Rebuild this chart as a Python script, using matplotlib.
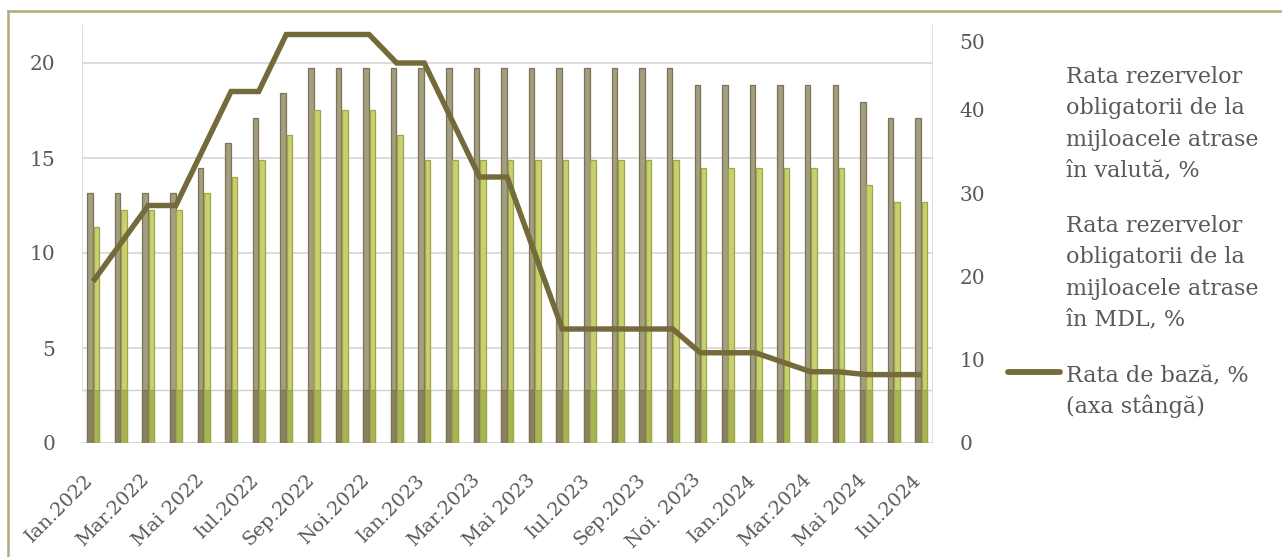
import numpy as np
import matplotlib
matplotlib.use("Agg")
import matplotlib.pyplot as plt
from matplotlib.lines import Line2D
import matplotlib.transforms as mtransforms

# ---------------- data ----------------
months = ["Ian.2022", "Feb.2022", "Mar.2022", "Apr.2022", "Mai 2022", "Iun.2022",
          "Iul.2022", "Aug.2022", "Sep.2022", "Oct.2022", "Noi.2022", "Dec.2022",
          "Ian.2023", "Feb.2023", "Mar.2023", "Apr.2023", "Mai 2023", "Iun.2023",
          "Iul.2023", "Aug.2023", "Sep.2023", "Oct.2023", "Noi. 2023", "Dec.2023",
          "Ian.2024", "Feb.2024", "Mar.2024", "Apr.2024", "Mai 2024", "Iun.2024",
          "Iul.2024"]
rr_valuta = [30, 30, 30, 30, 33, 36, 39, 42, 45, 45, 45, 45, 45, 45, 45, 45,
             45, 45, 45, 45, 45, 45, 43, 43, 43, 43, 43, 43, 41, 39, 39]
rr_mdl = [26, 28, 28, 28, 30, 32, 34, 37, 40, 40, 40, 37, 34, 34, 34, 34,
          34, 34, 34, 34, 34, 34, 33, 33, 33, 33, 33, 33, 31, 29, 29]
rata_baza = [8.5, 10.5, 12.5, 12.5, 15.5, 18.5, 18.5, 21.5, 21.5, 21.5, 21.5, 20.0,
             20.0, 17.0, 14.0, 14.0, 10.0, 6.0, 6.0, 6.0, 6.0, 6.0, 4.75, 4.75,
             4.75, 4.25, 3.75, 3.75, 3.6, 3.6, 3.6]
left_ticks = [0, 5, 10, 15, 20]
right_ticks = [0, 10, 20, 30, 40, 50]
label_valuta = "Rata rezervelor\nobligatorii de la\nmijloacele atrase\nîn valută, %"
label_mdl = "Rata rezervelor\nobligatorii de la\nmijloacele atrase\nîn MDL, %"
label_baza = "Rata de bază, %\n(axa stângă)"

# ---------------- style ----------------
FONT = "DejaVu Serif"
TXT = "#595959"
GRID = "#d9d9d9"
C_VAL, E_VAL = "#a29e7f", "#7a7455"
C_MDL, E_MDL = "#c9d06e", "#9ea64a"
C_LINE = "#756a3b"
BORDER = "#b3ab7c"

plt.rcParams["font.family"] = [FONT, "DejaVu Sans"]

W, H = 1282, 557
fig = plt.figure(figsize=(W / 100, H / 100), dpi=100)

# frame lines (top + left) of the chart area
fig.add_artist(Line2D([8 / W, 1.0], [1 - 11 / H, 1 - 11 / H], color=BORDER, lw=1.8,
                      transform=fig.transFigure))
fig.add_artist(Line2D([8 / W, 8 / W], [0, 1 - 11 / H], color=BORDER, lw=1.8,
                      transform=fig.transFigure))

x0, x1, yb, yt = 82, 933, 443, 25
rect = [x0 / W, 1 - yb / H, (x1 - x0) / W, (yb - yt) / H]

ax = fig.add_axes(rect)          # left scale, gridlines
ax2 = ax.twinx()                 # right scale, bars
ax3 = ax.twinx()                 # left scale, line on top

idx = np.arange(len(months))
xlim = (-0.29, 30.54)
for a in (ax, ax2, ax3):
    a.set_xlim(*xlim)
    for s in a.spines.values():
        s.set_visible(False)
    a.patch.set_visible(False)

ax.set_ylim(0, 22)
ax3.set_ylim(0, 22)
ax2.set_ylim(0, 50.2)

# gridlines / walls
for v in left_ticks[1:]:
    ax.axhline(v, color=GRID, lw=1.3, zorder=0)
ax.axhline(0, color=GRID, lw=2.2, zorder=0)
floor = 2.78
ax.axhline(floor, color="#cfcfcf", lw=1.0, zorder=0)
ax.plot([xlim[0], xlim[0]], [floor, 22], color=GRID, lw=1.2, zorder=0)
ax.plot([xlim[1], xlim[1]], [0, 22], color=GRID, lw=1.2, zorder=0)

# bars (right axis)
bw = 0.2
ax2.bar(idx, rr_valuta, width=bw, color=C_VAL, edgecolor=E_VAL, linewidth=0.9, zorder=2)
ax2.bar(idx + 0.23, rr_mdl, width=bw, color=C_MDL, edgecolor=E_MDL, linewidth=0.9, zorder=2)
floor_r = floor * 50.2 / 22
ax2.bar(idx, [floor_r] * len(idx), width=bw, color="#8a8160", edgecolor=E_VAL,
        linewidth=0.9, zorder=3)
ax2.bar(idx + 0.23, [floor_r] * len(idx), width=bw, color="#a8b352", edgecolor=E_MDL,
        linewidth=0.9, zorder=3)

# line (left axis)
ax3.plot(idx + 0.11, rata_baza, color=C_LINE, lw=3.9, solid_joinstyle="miter",
         solid_capstyle="butt", zorder=5)

# ticks
ax.set_yticks(left_ticks)
ax.set_yticklabels([str(t) for t in left_ticks])
ax.tick_params(axis="y", length=0, pad=19, labelsize=14.5, labelcolor=TXT)
ax2.set_yticks(right_ticks)
ax2.set_yticklabels([str(t) for t in right_ticks])
ax2.tick_params(axis="y", length=0, pad=19, labelsize=14.5, labelcolor=TXT)
lab50 = ax2.get_yticklabels()[-1]
lab50.set_transform(lab50.get_transform() +
                    mtransforms.ScaledTranslation(0, -15 / 100, fig.dpi_scale_trans))
ax3.set_yticks([])
ax2.set_xticks([])
ax3.set_xticks([])

xt = idx[::2]
ax.set_xticks(xt - 0.2)
ax.set_xticklabels([months[i] for i in xt], rotation=45, ha="right", va="top",
                   rotation_mode="anchor")
ax.tick_params(axis="x", length=0, pad=20, labelsize=14, labelcolor=TXT)

# legend (manual, right side)
lx = 1066 / W
fs = 16
def put(lines, base_y):
    for k, t in enumerate(lines.split("\n")):
        fig.text(lx, 1 - (base_y + 31.3 * k) / H, t, fontsize=fs, color=TXT,
                 va="baseline", ha="left")
put(label_valuta, 83)
put(label_mdl, 232)
put(label_baza, 382)
fig.add_artist(Line2D([1008 / W, 1060 / W], [1 - 372 / H, 1 - 372 / H], color=C_LINE,
                      lw=4.2, solid_capstyle="round", transform=fig.transFigure))

fig.savefig("out.png", dpi=100)
